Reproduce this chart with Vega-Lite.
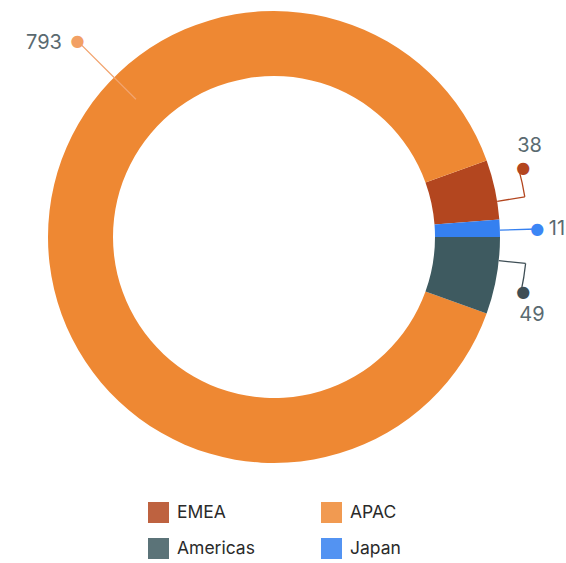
{
  "$schema": "https://vega.github.io/schema/vega-lite/v6.json",
  "width": 548,
  "height": 474,
  "autosize": {"type": "none"},
  "padding": {"left": 0, "top": 0, "right": 18, "bottom": 89},
  "background": "white",
  "config": {"view": {"stroke": null}, "font": "Inter"},
  "data": {"values": [
    {"region": "EMEA", "value": 38},
    {"region": "APAC", "value": 793},
    {"region": "Americas", "value": 49},
    {"region": "Japan", "value": 11}
  ]},
  "transform": [
    {"calculate": "indexof(['EMEA','Japan','Americas','APAC'], datum.region)", "as": "idx"},
    {"stack": "value", "groupby": [], "sort": [{"field": "idx", "order": "ascending"}], "as": ["v0", "v1"]}
  ],
  "encoding": {
    "theta": {"field": "value", "type": "quantitative", "stack": true, "scale": {"range": [1.2253, 7.5085]}},
    "order": {"field": "idx", "type": "quantitative", "sort": "ascending"},
    "detail": {"field": "region"}
  },
  "layer": [
    {
      "mark": {"type": "arc", "radius": 226, "radius2": 161},
      "encoding": {
        "color": {"field": "region", "type": "nominal",
          "scale": {"domain": ["EMEA", "Americas", "APAC", "Japan"], "range": ["#B3461F", "#3E5A60", "#EE8833", "#3580F0"]},
          "legend": {"title": null, "orient": "none", "legendX": 148, "legendY": 502, "columns": 2, "symbolType": "square", "symbolSize": 441, "symbolOpacity": 0.85, "symbolStrokeWidth": 0, "labelFontSize": 17.5, "labelFont": "Inter", "labelColor": "#2a2a2a", "labelOffset": 8, "rowPadding": 15, "columnPadding": 66}
        }
      }
    },
    {
      "mark": {"type": "arc", "radius": 277, "radius2": 195, "thetaOffset": 3.580, "theta2Offset": 3.580, "fill": "transparent", "stroke": "#F2A46E", "strokeWidth": 1.3},
      "encoding": {
        "theta": {"field": "v0", "type": "quantitative", "stack": null, "scale": {"range": [1.2253, 7.5085]}},
        "theta2": {"field": "v0"},
        "strokeOpacity": {"condition": {"test": "datum.region==='APAC'", "value": 1}, "value": 0}
      }
    },
    {
      "mark": {"type": "arc", "radius": 254, "radius2": 226, "thetaOffset": 0.1868, "theta2Offset": 0.1868, "fill": "transparent", "stroke": "#B3461F", "strokeWidth": 1.3},
      "encoding": {
        "theta": {"field": "v0", "type": "quantitative", "stack": null, "scale": {"range": [1.2253, 7.5085]}},
        "theta2": {"field": "v0"},
        "strokeOpacity": {"condition": {"test": "datum.region==='EMEA'", "value": 1}, "value": 0}
      }
    },
    {
      "mark": {"type": "arc", "radius": 254, "radius2": 254, "thetaOffset": 0.0768, "theta2Offset": 0.1868, "fill": "transparent", "stroke": "#B3461F", "strokeWidth": 1.3},
      "encoding": {
        "theta": {"field": "v0", "type": "quantitative", "stack": null, "scale": {"range": [1.2253, 7.5085]}},
        "theta2": {"field": "v0"},
        "strokeOpacity": {"condition": {"test": "datum.region==='EMEA'", "value": 1}, "value": 0}
      }
    },
    {
      "mark": {"type": "arc", "radius": 263, "radius2": 226, "thetaOffset": 0.0471, "theta2Offset": 0.0471, "fill": "transparent", "stroke": "#3580F0", "strokeWidth": 1.3},
      "encoding": {
        "theta": {"field": "v0", "type": "quantitative", "stack": null, "scale": {"range": [1.2253, 7.5085]}},
        "theta2": {"field": "v0"},
        "strokeOpacity": {"condition": {"test": "datum.region==='Japan'", "value": 1}, "value": 0}
      }
    },
    {
      "mark": {"type": "arc", "radius": 253, "radius2": 226, "thetaOffset": 0.1047, "theta2Offset": 0.1047, "fill": "transparent", "stroke": "#3E4E55", "strokeWidth": 1.3},
      "encoding": {
        "theta": {"field": "v0", "type": "quantitative", "stack": null, "scale": {"range": [1.2253, 7.5085]}},
        "theta2": {"field": "v0"},
        "strokeOpacity": {"condition": {"test": "datum.region==='Americas'", "value": 1}, "value": 0}
      }
    },
    {
      "mark": {"type": "arc", "radius": 253, "radius2": 253, "thetaOffset": 0.1047, "theta2Offset": 0.2164, "fill": "transparent", "stroke": "#3E4E55", "strokeWidth": 1.3},
      "encoding": {
        "theta": {"field": "v0", "type": "quantitative", "stack": null, "scale": {"range": [1.2253, 7.5085]}},
        "theta2": {"field": "v0"},
        "strokeOpacity": {"condition": {"test": "datum.region==='Americas'", "value": 1}, "value": 0}
      }
    },
    {
      "mark": {"type": "text", "radius": 277.7, "thetaOffset": 0.784, "font": "DejaVu Sans", "fontSize": 16, "color": "#F2A064", "baseline": "middle", "align": "center"},
      "encoding": {"text": {"condition": {"test": "datum.region==='APAC'", "value": "●"}, "value": ""}}
    },
    {
      "mark": {"type": "text", "radius": 258.6, "thetaOffset": -0.0574, "font": "DejaVu Sans", "fontSize": 16, "color": "#B3461F", "baseline": "middle", "align": "center"},
      "encoding": {"text": {"condition": {"test": "datum.region==='EMEA'", "value": "●"}, "value": ""}}
    },
    {
      "mark": {"type": "text", "radius": 263.4, "thetaOffset": 0.0084, "font": "DejaVu Sans", "fontSize": 16, "color": "#3B86F5", "baseline": "middle", "align": "center"},
      "encoding": {"text": {"condition": {"test": "datum.region==='Japan'", "value": "●"}, "value": ""}}
    },
    {
      "mark": {"type": "text", "radius": 255.2, "thetaOffset": 0.0433, "font": "DejaVu Sans", "fontSize": 16, "color": "#3E4E55", "baseline": "middle", "align": "center"},
      "encoding": {"text": {"condition": {"test": "datum.region==='Americas'", "value": "●"}, "value": ""}}
    },
    {
      "mark": {"type": "text", "radius": 300.9, "thetaOffset": 0.7007, "fontSize": 20, "color": "#5A6A70", "baseline": "middle", "align": "center"},
      "encoding": {"text": {"condition": {"test": "datum.region==='APAC'", "field": "value", "type": "quantitative"}, "value": ""}}
    },
    {
      "mark": {"type": "text", "radius": 271.4, "thetaOffset": -0.1323, "fontSize": 20, "color": "#5A6A70", "baseline": "middle", "align": "center"},
      "encoding": {"text": {"condition": {"test": "datum.region==='EMEA'", "field": "value", "type": "quantitative"}, "value": ""}}
    },
    {
      "mark": {"type": "text", "radius": 283.1, "thetaOffset": 0.0105, "fontSize": 20, "color": "#5A6A70", "baseline": "middle", "align": "center"},
      "encoding": {"text": {"condition": {"test": "datum.region==='Japan'", "field": "value", "type": "quantitative"}, "value": ""}}
    },
    {
      "mark": {"type": "text", "radius": 269.4, "thetaOffset": 0.119, "fontSize": 20, "color": "#5A6A70", "baseline": "middle", "align": "center"},
      "encoding": {"text": {"condition": {"test": "datum.region==='Americas'", "field": "value", "type": "quantitative"}, "value": ""}}
    }
  ]
}
